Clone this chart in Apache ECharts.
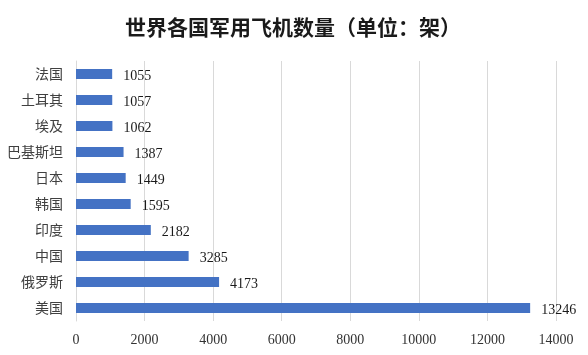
<!DOCTYPE html>
<html>
<head>
<meta charset="utf-8">
<script src="https://cdn.jsdelivr.net/npm/echarts@6/dist/echarts.min.js"></script>
<style>html,body{margin:0;padding:0;background:#fff;}#c{width:588px;height:355px;}</style>
</head>
<body>
<div id="c"></div>
<script>
const categories = ['美国','俄罗斯','中国','印度','韩国','日本','巴基斯坦','埃及','土耳其','法国'];
const values = [13246, 4173, 3285, 2182, 1595, 1449, 1387, 1062, 1057, 1055];
const xTicks = [0, 2000, 4000, 6000, 8000, 10000, 12000, 14000];

const chart = echarts.init(document.getElementById('c'), null, {renderer:'canvas'});
chart.setOption({
  animation: false,
  backgroundColor: '#ffffff',
  title: {
    text: '世界各国军用飞机数量（单位：架）',
    left: 288, textAlign: 'center', top: 12,
    textStyle: {fontFamily: '"Noto Sans CJK SC"', fontWeight: 'bold', fontSize: 21, color: '#1a1a1a'}
  },
  grid: {left: 76, right: 32, top: 61, bottom: 34, containLabel: false},
  xAxis: {
    type: 'value', min: xTicks[0], max: xTicks[xTicks.length-1], interval: 2000,
    axisLine: {show: false}, axisTick: {show: false},
    splitLine: {show: true, lineStyle: {color: '#d9d9d9', width: 1}},
    axisLabel: {margin: 12, fontFamily: '"Liberation Serif"', fontSize: 14, color: '#333', formatter: v => String(v)}
  },
  yAxis: {
    type: 'category', data: categories,
    axisLine: {show: true, lineStyle: {color: '#d9d9d9'}}, axisTick: {show: false},
    axisLabel: {margin: 13, fontFamily: '"Noto Sans CJK SC"', fontSize: 14, color: '#404040'}
  },
  series: [{
    type: 'bar', data: values, barWidth: 10,
    itemStyle: {color: '#4472C4'},
    label: {show: true, position: 'right', distance: 11, offset: [0, 2], fontFamily: '"Liberation Serif"', fontSize: 14, color: '#1a1a1a', formatter: p => String(p.value)}
  }]
});
</script>
</body>
</html>
